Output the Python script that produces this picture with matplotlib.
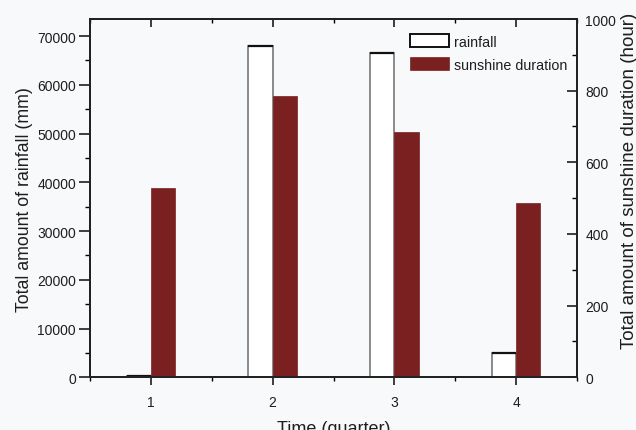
import matplotlib
matplotlib.use("Agg")
import matplotlib.pyplot as plt
import numpy as np
from matplotlib.ticker import MultipleLocator

plt.rcParams['font.family'] = ['Liberation Sans', 'DejaVu Sans']

quarters = [1, 2, 3, 4]
rainfall = [300, 68000, 66500, 5000]
sunshine = [527, 786, 684, 486]
x_labels = ['1', '2', '3', '4']

bg = '#f8f9fb'
red = '#7a2020'
txt = '#1e1e1e'

fig = plt.figure(figsize=(6.36, 4.31), dpi=100, facecolor=bg)
ax = fig.add_axes([90/636, 1-378.3/431, (577-90)/636, (378.3-20)/431])
ax.set_facecolor(bg)
ax2 = ax.twinx()

x = np.array(quarters, dtype=float)
w = 0.2
ax.bar(x - w/2, rainfall, width=w, facecolor='white', edgecolor='#8a8a8a', linewidth=1.4, label='rainfall')
ax.hlines(rainfall, x - w, x, colors='#111111', linewidth=1.6, zorder=3)
ax2.bar(x + w/2, sunshine, width=w, facecolor=red, edgecolor=red, linewidth=0.5, label='sunshine duration')

ax.set_xlim(0.5, 4.5)
ax.set_ylim(0, 73500)
ax2.set_ylim(0, 1000)

ax.set_xticks(quarters)
ax.set_xticklabels(x_labels)
ax.xaxis.set_minor_locator(MultipleLocator(0.5))
ax.yaxis.set_major_locator(MultipleLocator(10000))
ax.yaxis.set_minor_locator(MultipleLocator(5000))
ax2.yaxis.set_major_locator(MultipleLocator(200))
ax2.yaxis.set_minor_locator(MultipleLocator(100))

for a in (ax, ax2):
    for s in a.spines.values():
        s.set_linewidth(1.4)
        s.set_color('#222222')

ax.tick_params(axis='y', which='major', direction='out', length=8, width=1.2, labelsize=10, colors=txt, pad=2)
ax.tick_params(axis='y', which='minor', direction='out', length=3.5, width=1.0)
ax.tick_params(axis='x', which='major', direction='out', length=6, width=1.2, labelsize=10, top=True, colors=txt, pad=7)
ax.tick_params(axis='x', which='minor', direction='out', length=3, width=1.0, top=True)
for t in ax.xaxis.get_major_ticks() + ax.xaxis.get_minor_ticks():
    t.tick2line.set_marker(3)  # TICKDOWN (inward on top)
ax2.tick_params(axis='y', which='major', direction='in', length=7, width=1.2, labelsize=10, colors=txt, pad=6)
ax2.tick_params(axis='y', which='minor', direction='in', length=3.5, width=1.0)

ax.set_ylabel('Total amount of rainfall (mm)', fontsize=12.8, color=txt, labelpad=3)
ax2.set_ylabel('Total amount of sunshine duration (hour)', fontsize=13.5, color=txt)
ax2.yaxis.set_label_coords((621 - 90) / 487, (378.3 - 181) / 358.3)
ax.set_xlabel('Time (quarter)', fontsize=13, color=txt, labelpad=8)

h1, l1 = ax.get_legend_handles_labels()
h2, l2 = ax2.get_legend_handles_labels()
leg = ax2.legend(h1 + h2, l1 + l2, loc='upper right', frameon=False, fontsize=10.3,
                 handlelength=2.7, handleheight=1.0, handletextpad=0.35, labelspacing=0.6,
                 bbox_to_anchor=(1.0, 0.985), borderaxespad=0.3)
for t in leg.get_texts():
    t.set_color(txt)
leg.legend_handles[0].set_edgecolor('#111111')

fig.savefig('out.png', dpi=100, facecolor=bg)
